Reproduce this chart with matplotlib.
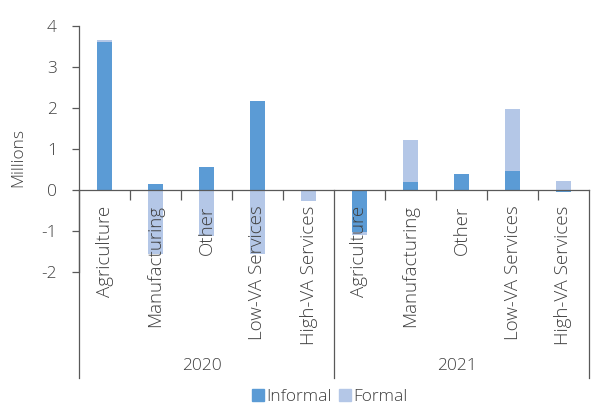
import matplotlib
matplotlib.use("Agg")
import matplotlib.pyplot as plt
import matplotlib.transforms as mtransforms
from matplotlib.patches import Patch
import numpy as np

plt.rcParams['font.family'] = ['Open Sans', 'DejaVu Sans']
plt.rcParams['font.weight'] = 'light'

years = ['2020', '2021']
sectors = ['Agriculture', 'Manufacturing', 'Other', 'Low-VA Services', 'High-VA Services']
informal_2020 = [3.60, 0.14, 0.57, 2.18, -0.02]
formal_2020 = [0.06, -1.55, -1.12, -1.56, -0.25]
informal_2021 = [-1.02, 0.20, 0.39, 0.47, -0.06]
formal_2021 = [-0.08, 1.02, 0.0, 1.51, 0.22]
yticks = [-2, -1, 0, 1, 2, 3, 4]

informal = np.array(informal_2020 + informal_2021)
formal = np.array(formal_2020 + formal_2021)
labels = sectors + sectors
x = np.arange(len(labels))

c_inf = '#5B9BD5'
c_for = '#B4C7E7'
txt = '#404040'
axc = '#595959'

fig = plt.figure(figsize=(5.92, 4.07), dpi=100)
ax = fig.add_axes([79/592, 1-272/407, (589-79)/592, (272-26)/407])
ax.set_axisbelow(False)

w = 0.31
ax.bar(x, informal, width=w, color=c_inf, zorder=1)
fbottom = np.where(np.sign(formal) == np.sign(informal), informal, 0.0)
ax.bar(x, formal, bottom=fbottom, width=w, color=c_for, zorder=1)

ax.set_xlim(-0.5, len(labels) - 0.5)
ax.set_ylim(-2, 4)
ax.set_yticks(yticks)
ax.set_yticklabels([str(v) for v in yticks])

for s in ['top', 'right']:
    ax.spines[s].set_visible(False)
ax.spines['bottom'].set_position(('data', 0))
ax.spines['bottom'].set_color(axc)
ax.spines['left'].set_color(axc)
ax.spines['bottom'].set_linewidth(0.9)
ax.spines['left'].set_linewidth(0.9)

ax.tick_params(axis='y', direction='out', length=5, width=0.9, color=axc,
               labelsize=12.5, labelcolor=txt, pad=11)
ax.set_xticks(x)
ax.set_xticklabels(labels, rotation=90, fontsize=13.5, color=txt)
ax.tick_params(axis='x', which='major', length=0, pad=11)
minor = [i + 0.5 for i in range(len(labels) - 1) if (i + 1) % len(sectors) != 0]
ax.set_xticks(minor, minor=True)
ax.tick_params(axis='x', which='minor', direction='out', length=7, width=0.9, color=axc)

trans = mtransforms.blended_transform_factory(ax.transData, ax.transAxes)
zero_frac = (0 - (-2)) / 6
for b in [-0.5, len(sectors) - 0.5, len(labels) - 0.5]:
    ax.plot([b, b], [zero_frac, -0.43], transform=trans, color=axc, lw=0.9, clip_on=False)
for gi, yr in enumerate(years):
    cx = gi * len(sectors) + (len(sectors) - 1) / 2
    ax.text(cx - 0.08, -0.382, yr, transform=trans, ha='center', va='center', fontsize=12.5, color=txt)

fig.text(18/592, 1-157/407, 'Millions', rotation=90, ha='center', va='center', fontsize=12.5, color=txt)

handles = [Patch(color=c_inf, label='Informal'), Patch(color=c_for, label='Formal')]
leg = fig.legend(handles=handles, loc='center', bbox_to_anchor=(330/592, 1-397/407), ncol=2,
                 frameon=False, fontsize=12.5, handlelength=0.65, handleheight=0.65,
                 handletextpad=0.15, columnspacing=0.45, borderpad=0)
for t in leg.get_texts():
    t.set_color(txt)

fig.savefig('out.png', dpi=100)
